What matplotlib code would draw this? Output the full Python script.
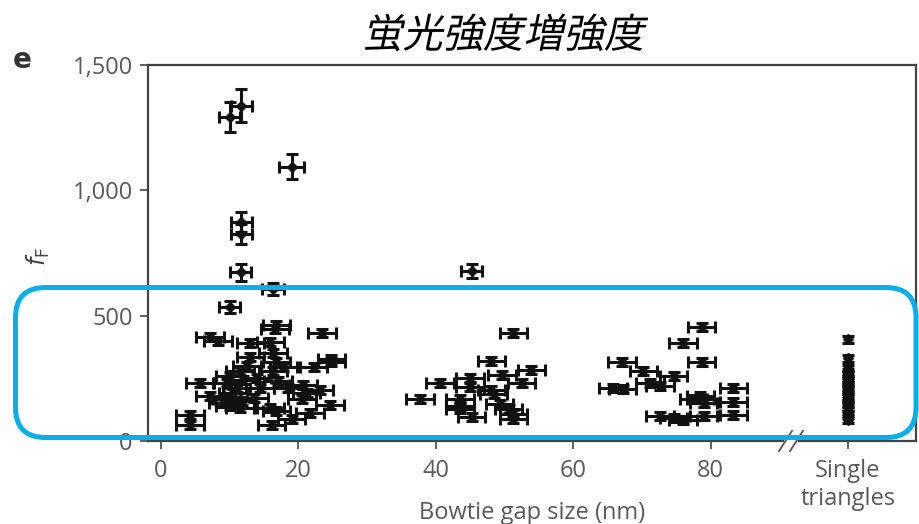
import matplotlib
matplotlib.use('Agg')
import matplotlib.pyplot as plt
import numpy as np
from matplotlib.patches import FancyBboxPatch
from matplotlib.patheffects import AbstractPathEffect
from matplotlib.transforms import Affine2D, blended_transform_factory
from matplotlib.ticker import FuncFormatter

# Bowtie antennas: bright outliers (individual error bars)
top_gap = [10.0, 11.7, 19.0, 11.7, 11.7, 11.6, 45.2, 16.3, 10.0]
top_ff = [1292, 1338, 1094, 873, 824, 673, 677, 607, 534]
top_gap_err = [1.5, 1.5, 1.8, 1.5, 1.5, 1.5, 1.5, 1.6, 1.5]
top_ff_err = [60, 65, 50, 40, 40, 35, 28, 25, 25]

# Bowtie antennas with small gaps (< 30 nm)
small_gap = [16.8, 16.6, 23.4, 7.1, 8.3, 13.0, 15.9, 13.0, 16.3, 24.8,
             24.8, 22.2, 16.8, 17.8, 16.3, 11.5, 10.0, 5.7, 9.6, 14.4,
             11.0, 20.7, 23.1, 21.2, 7.1, 9.6, 20.5, 10.0, 11.5, 15.9,
             24.6, 21.7, 16.8, 19.0, 4.2, 4.2, 16.1, 12.0, 10.5, 11.8,
             9.0, 12.5, 14.0, 17.0, 18.5, 13.5]
small_ff = [462, 445, 432, 413, 400, 390, 396, 337, 350, 327,
            315, 297, 317, 297, 278, 278, 258, 232, 232, 212,
            212, 225, 205, 192, 179, 166, 166, 140, 133, 133,
            142, 113, 120, 87, 103, 63, 63, 245, 190, 160,
            150, 300, 250, 240, 210, 170]

# Bowtie antennas with medium gaps (35-55 nm)
mid_gap = [51.3, 48.1, 53.9, 49.6, 45.0, 40.6, 52.5, 45.0, 48.1, 48.4,
           37.7, 43.5, 43.5, 43.5, 49.3, 50.6, 51.3, 51.3, 45.2]
mid_ff = [432, 321, 282, 265, 252, 232, 232, 216, 205, 186,
          166, 166, 140, 126, 146, 126, 107, 87, 96]

# Bowtie antennas with large gaps (65-85 nm)
large_gap = [78.7, 76.0, 78.7, 67.1, 70.2, 74.6, 71.2, 72.6, 65.8, 67.2,
             83.3, 78.5, 78.5, 79.0, 77.5, 83.3, 83.3, 72.6, 74.6, 76.0, 79.0]
large_ff = [455, 390, 317, 317, 278, 258, 232, 221, 212, 208,
            212, 179, 166, 153, 166, 157, 103, 98, 90, 84, 98]

# Single triangles, plotted in their own column after the axis break
single_pos = 100
single_ff = [405, 331, 291, 275, 265, 250, 238, 225, 212, 200,
             186, 175, 166, 150, 133, 120, 107, 84]

bowtie_gap_err = 2.0
bowtie_ff_err = 16
single_ff_err = 14

x_ticks = [0, 20, 40, 60, 80, single_pos]
x_ticklabels = ['0', '20', '40', '60', '80', 'Single\ntriangles']
y_ticks = [0, 500, 1000, 1500]


class Slant(AbstractPathEffect):
    """Shear glyph outlines to get an oblique look from an upright font."""

    def __init__(self, angle=12):
        super().__init__()
        self.angle = angle

    def draw_path(self, renderer, gc, tpath, affine, rgbFace=None):
        renderer.draw_path(gc, tpath, Affine2D().skew_deg(self.angle, 0) + affine, rgbFace)


plt.rcParams['font.family'] = ['Open Sans', 'DejaVu Sans']
axis_grey = '#555555'
tick_grey = '#5a5a5a'

fig = plt.figure(figsize=(9.19, 5.24), dpi=100)
ax = fig.add_axes([148 / 919, 83 / 524, 768 / 919, 376 / 524])

eb_style = dict(fmt='D', color='#111111', ms=5, elinewidth=2.2,
                capsize=4.5, capthick=2.2, zorder=3)
ax.errorbar(top_gap, top_ff, xerr=top_gap_err, yerr=top_ff_err, **eb_style)
for gaps, vals in [(small_gap, small_ff), (mid_gap, mid_ff), (large_gap, large_ff)]:
    ax.errorbar(gaps, vals, xerr=bowtie_gap_err, yerr=bowtie_ff_err, **eb_style)
ax.errorbar([single_pos] * len(single_ff), single_ff, yerr=single_ff_err, **eb_style)

ax.set_xlim(-1.9, 109.9)
ax.set_ylim(0, 1500)
ax.set_xticks(x_ticks)
ax.set_xticklabels(x_ticklabels, linespacing=1.2)
ax.set_yticks(y_ticks)
ax.yaxis.set_major_formatter(FuncFormatter(lambda v, p: f'{v:,.0f}'))
ax.tick_params(direction='out', length=6, width=1.3, colors=axis_grey,
               labelcolor=tick_grey, labelsize=17, pad=5)
ax.tick_params(axis='x', pad=7)

for side in ['left', 'top', 'right']:
    ax.spines[side].set_color('#444444')
    ax.spines[side].set_linewidth(1.6)
ax.spines['bottom'].set_visible(False)

# bottom axis drawn in two pieces with a // break before the single-triangle column
bx = blended_transform_factory(ax.transData, ax.transAxes)
ax.plot([-1.9, 90.6], [0, 0], color='#444444', lw=1.6, transform=bx, clip_on=False)
ax.plot([92.8, 109.9], [0, 0], color='#444444', lw=1.6, transform=bx, clip_on=False)
for xc in [90.9, 92.5]:
    ax.plot([xc - 0.95, xc + 0.95], [-0.027, 0.027], color='#555555', lw=1.3,
            transform=bx, clip_on=False)

ax.set_xlabel('Bowtie gap size (nm)', fontsize=17, color=tick_grey)
ax.xaxis.set_label_coords(0.5, -0.16)
ax.set_ylabel(r'$f_\mathrm{F}$', fontsize=17, color='#444444')
ax.yaxis.set_label_coords(-0.125, 0.49)

fig.text(22 / 919, 1 - 60 / 524, 'e', fontsize=20, fontweight='bold',
         color='#333333', ha='center', va='center', family=['DejaVu Sans'])

fig.text(503 / 919, 1 - 36 / 524, '蛍光強度増強度', fontsize=29,
         family=['Noto Sans CJK JP', 'DejaVu Sans'], ha='center', va='center',
         color='black', path_effects=[Slant(12)])

# rounded highlight box around the 0-500 band
box = FancyBboxPatch((0.155, 0.865), 9.005, 1.5,
                     boxstyle='round,pad=0,rounding_size=0.3',
                     transform=fig.dpi_scale_trans, fill=False,
                     edgecolor='#0AAEEA', linewidth=3.6, zorder=10)
fig.add_artist(box)

fig.savefig('out.png', dpi=100)
